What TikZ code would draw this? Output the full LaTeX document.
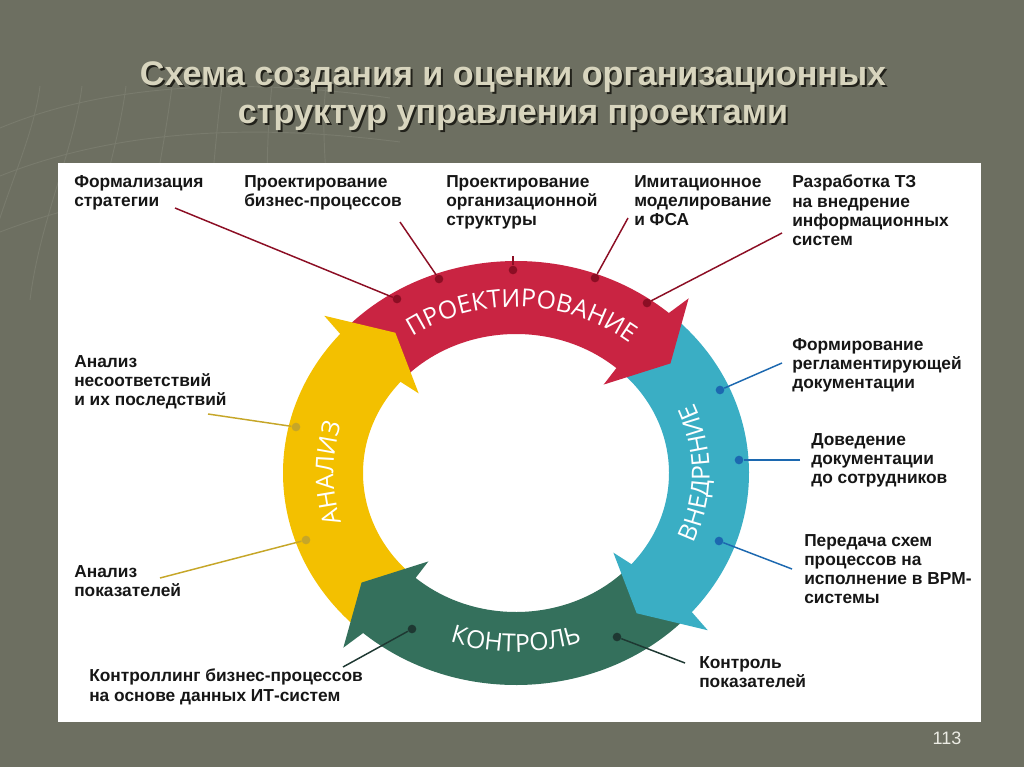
\documentclass[tikz,border=0pt]{standalone}
\usepackage{fontspec}
\setmainfont{Liberation Sans}
\newfontfamily\RingFont{Open Sans}
\usepackage{tikz}
\usetikzlibrary{decorations.text}
\usepackage{xcolor}
\definecolor{ColBg}{RGB}{109,111,97}
\definecolor{ColGrid}{RGB}{121,123,109}
\definecolor{ColTitle}{RGB}{216,213,190}
\definecolor{ColShadow}{RGB}{34,34,27}
\definecolor{ColPage}{RGB}{236,236,228}
\definecolor{ColText}{RGB}{22,22,22}
\definecolor{ColRed}{RGB}{201,36,66}
\definecolor{ColRedLine}{RGB}{140,14,36}
\definecolor{ColYellow}{RGB}{243,192,0}
\definecolor{ColYellowLine}{RGB}{198,166,40}
\definecolor{ColBlue}{RGB}{58,174,196}
\definecolor{ColBlueLine}{RGB}{28,104,176}
\definecolor{ColGreen}{RGB}{52,112,92}
\definecolor{ColGreenLine}{RGB}{30,56,50}
\newcommand\RingTxt{\RingFont\fontsize{18.6}{20}\selectfont\color{white}}
% ring segment body: colour, start angle, end angle
\newcommand\RingBody[3]{\fill[#1](#2:233 and 212)arc[start angle=#2,end angle=#3,x radius=233,y radius=212]
  --(#3:153 and 139)arc[start angle=#3,end angle=#2,x radius=153,y radius=139]--cycle;}
% ring arrow head: colour, base angle
\newcommand\RingHead[2]{\fill[#1]({#2-1}:233 and 212)--(#2:258 and 235)--({#2+10}:196 and 178)
  --(#2:131 and 119)--({#2-1}:153 and 139)--cycle;}
\tikzstyle{NodeTitle}=[align=center,inner sep=0pt,font=\bfseries\fontsize{25.6}{28.5}\selectfont]
\tikzstyle{NodeLabel}=[anchor=north west,inner sep=0pt,align=left,text=ColText,
  font=\bfseries\fontsize{13}{14.4}\selectfont]
\tikzstyle{NodeDot}=[circle,inner sep=0pt,minimum size=6.5pt]
\tikzstyle{RingText}=[decorate,decoration={text along path,text align=center}]
\tikzstyle{EdgeRed}=[ColRedLine,line width=1.1pt]
\tikzstyle{EdgeBlue}=[ColBlueLine,line width=1.1pt]
\tikzstyle{EdgeYellow}=[ColYellowLine,line width=1.1pt]
\tikzstyle{EdgeGreen}=[ColGreenLine,line width=1.1pt]
\begin{document}
\begin{tikzpicture}[x=0.75pt,y=-0.75pt]
        \useasboundingbox(0,0)rectangle(1024,767);
        \fill[ColBg](0,0)rectangle(1024,767);
        % faint globe lines
        \draw[ColGrid,line width=0.7pt](0,128)..controls(110,82)and(250,78)..(390,98);
        \draw[ColGrid,line width=0.7pt](0,176)..controls(120,128)and(260,124)..(400,142);
        \draw[ColGrid,line width=0.7pt](0,232)..controls(130,182)and(270,176)..(410,190);
        \foreach \gx/\gb in {40/20,82/70,126/122,172/178,222/240,272/300,326/366}
          \draw[ColGrid,line width=0.7pt](\gx,86)..controls({\gx-8},150)and({\gb-30},220)..({\gb-40},300);
        \fill[white](58,163)rectangle(981,722);
        \node[NodeTitle,text=ColShadow](tshadow)at(515,98){Схема создания и оценки организационных\\структур управления проектами};
        \node[NodeTitle,text=ColTitle](title)at(513,96){Схема создания и оценки организационных\\структур управления проектами};
        \node[text=ColPage,inner sep=0pt,font=\fontsize{13.5}{15}\selectfont](page)at(947,738){113};
        % ring
        \begin{scope}[shift={(516,473)}]
          \RingBody{ColYellow}{132}{222}
          \RingBody{ColRed}{222}{312}
          \RingBody{ColBlue}{312}{402}
          \RingBody{ColGreen}{42}{132}
          \RingHead{ColYellow}{222}
          \RingHead{ColRed}{312}
          \RingHead{ColBlue}{42}
          \RingHead{ColGreen}{132}
          \path[RingText,decoration={text={|\RingTxt|ПРОЕКТИРОВАНИЕ}}](228:182.6 and 166)arc[start angle=228,end angle=316,x radius=182.6,y radius=166];
          \path[RingText,decoration={text={|\RingTxt|ВНЕДРЕНИЕ}}](30:193.6 and 176)arc[start angle=30,end angle=-30,x radius=193.6,y radius=176];
          \path[RingText,decoration={text={|\RingTxt|АНАЛИЗ}}](150:182.6 and 166)arc[start angle=150,end angle=210,x radius=182.6,y radius=166];
          \path[RingText,decoration={text={|\RingTxt|КОНТРОЛЬ}}](120:197 and 179)arc[start angle=120,end angle=60,x radius=197,y radius=179];
        \end{scope}
        % labels
        \node[NodeLabel](l1)at(74,175){Формализация\\стратегии};
        \node[NodeLabel](l2)at(244,175){Проектирование\\бизнес-процессов};
        \node[NodeLabel](l3)at(446,175){Проектирование\\организационной\\структуры};
        \node[NodeLabel](l4)at(634,175){Имитационное\\моделирование\\и ФСА};
        \node[NodeLabel](l5)at(792,175){Разработка ТЗ\\на внедрение\\информационных\\систем};
        \node[NodeLabel](l6)at(792,338){Формирование\\регламентирующей\\документации};
        \node[NodeLabel](l7)at(811,433){Доведение\\документации\\до сотрудников};
        \node[NodeLabel](l8)at(804,534){Передача схем\\процессов на\\исполнение в BPM-\\системы};
        \node[NodeLabel](l9)at(74,355){Анализ\\несоответствий\\и их последствий};
        \node[NodeLabel](l10)at(74,565){Анализ\\показателей};
        \node[NodeLabel](l11)at(89,669){Контроллинг бизнес-процессов\\на основе данных ИТ-систем};
        \node[NodeLabel](l12)at(699,656){Контроль\\показателей};
        % dots on the ring
        \node[NodeDot,fill=ColRedLine](d1)at(397,299){};
        \node[NodeDot,fill=ColRedLine](d2)at(439,279){};
        \node[NodeDot,fill=ColRedLine](d3)at(513,270){};
        \node[NodeDot,fill=ColRedLine](d4)at(595,278){};
        \node[NodeDot,fill=ColRedLine](d5)at(647,303){};
        \node[NodeDot,fill=ColBlueLine](d6)at(720,390){};
        \node[NodeDot,fill=ColBlueLine](d7)at(739,460){};
        \node[NodeDot,fill=ColBlueLine](d8)at(719,541){};
        \node[NodeDot,fill=ColYellowLine](d9)at(296,427){};
        \node[NodeDot,fill=ColYellowLine](d10)at(306,540){};
        \node[NodeDot,fill=ColGreenLine](d11)at(412,629){};
        \node[NodeDot,fill=ColGreenLine](d12)at(617,637){};
        % free ends of the leaders
        \coordinate(e1)at(175,208);
        \coordinate(e2)at(400,222);
        \coordinate(e3)at(513,256);
        \coordinate(e4)at(628,218);
        \coordinate(e5)at(782,233);
        \coordinate(e6)at(782,363);
        \coordinate(e7)at(800,460);
        \coordinate(e8)at(792,569);
        \coordinate(e9)at(208,414);
        \coordinate(e10)at(160,578);
        \coordinate(e11)at(343,667);
        \coordinate(e12)at(685,663);
        \draw[EdgeRed](e1)--(d1);
        \draw[EdgeRed](e2)--(d2);
        \draw[EdgeRed](e3)--(d3);
        \draw[EdgeRed](e4)--(d4);
        \draw[EdgeRed](e5)--(d5);
        \draw[EdgeBlue](e6)--(d6);
        \draw[EdgeBlue](e7)--(d7);
        \draw[EdgeBlue](e8)--(d8);
        \draw[EdgeYellow](e9)--(d9);
        \draw[EdgeYellow](e10)--(d10);
        \draw[EdgeGreen](e11)--(d11);
        \draw[EdgeGreen](e12)--(d12);
    \end{tikzpicture}
\end{document}
